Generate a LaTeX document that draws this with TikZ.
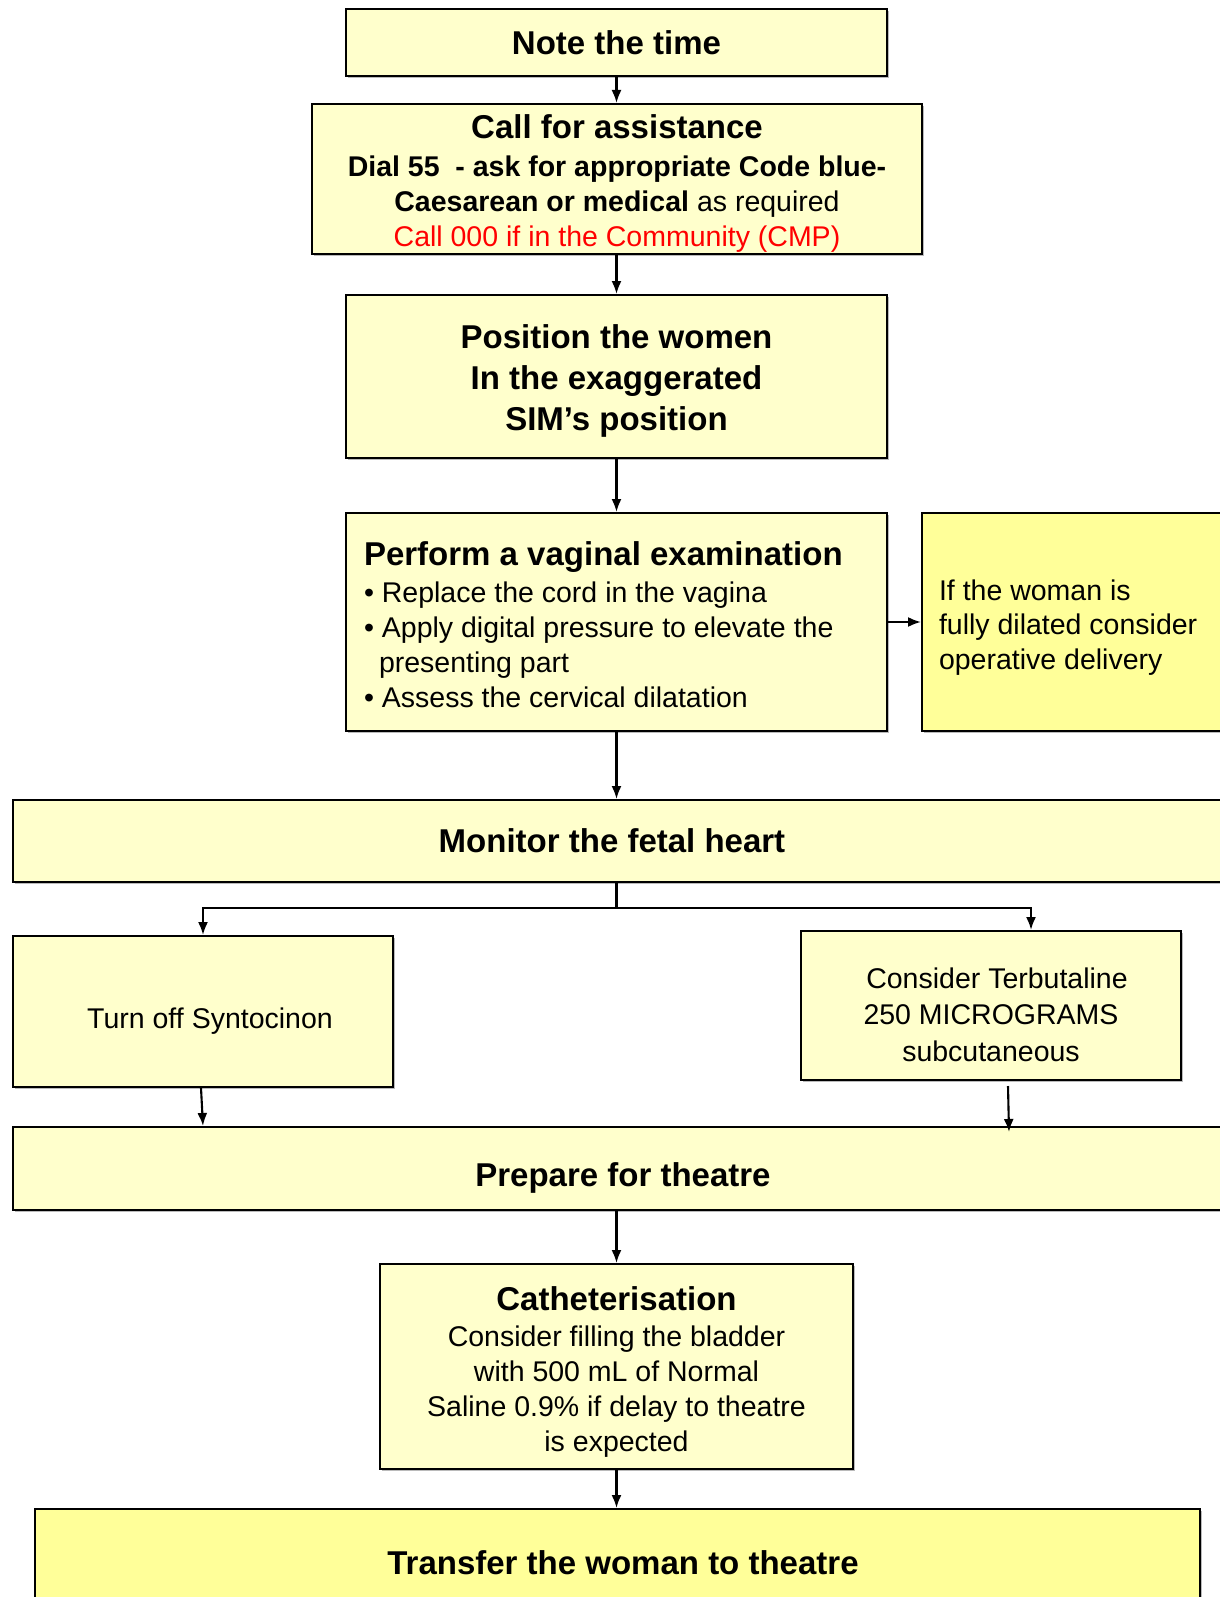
\documentclass[tikz,border=0pt]{standalone}
\usepackage{fontspec}
\setmainfont{Liberation Sans}
\usetikzlibrary{arrows.meta,shadows,calc}
\definecolor{boxyellow}{HTML}{FFFFCC}
\definecolor{hiyellow}{HTML}{FFFF99}
\definecolor{callred}{HTML}{FF0000}
\newcommand{\ttlfont}{\fontsize{33}{41}\selectfont\bfseries\spaceskip=0.278em\relax\xspaceskip=0.278em\relax}
\newcommand{\bdyfont}[1]{\fontsize{28.5}{#1}\selectfont\mdseries\spaceskip=0.278em\relax\xspaceskip=0.278em\relax}
\newcommand{\upstrut}[1]{\rule{0pt}{#1}}
\begin{document}
\begin{tikzpicture}[x=1pt,y=-1pt,
  box/.style={draw=black,line width=2pt,fill=boxyellow,rectangle,inner sep=0pt,
    drop shadow={shadow xshift=2pt,shadow yshift=-2pt,fill=black!45,opacity=0.6}},
  arr/.style={line width=2.1pt,-{Latex[length=13pt,width=10pt]}},
  ln/.style={line width=2.1pt}]
\useasboundingbox (0,0) rectangle (1219,1597);
\fill[white] (0,0) rectangle (1219,1597);

\node[box,minimum width=541pt,minimum height=67pt,text width=531pt,align=flush center] (note) at (616.5,42.5)
  {\ttlfont Note the time\par};

\node[box,minimum width=610pt,minimum height=150pt,text width=600pt,align=flush center] (call) at (617,179)
  {\bdyfont{35}{\ttlfont\upstrut{32pt}Call for assistance}\\[3pt]
   \textbf{Dial 55\ \ - ask for appropriate Code blue-}\\
   \textbf{Caesarean or medical} as required\\
   \textcolor{callred}{Call 000 if in the Community (CMP)}\par};

\node[box,minimum width=541pt,minimum height=163pt,text width=531pt,align=flush center] (pos) at (616.5,376.5)
  {\ttlfont\upstrut{32pt}Position the women\\In the exaggerated\\SIM’s position\par};

\node[box,minimum width=541pt,minimum height=218pt,text width=505pt,inner xsep=18pt,align=flush left] (perf) at (616.5,622)
  {\bdyfont{35}{\ttlfont\upstrut{30pt}Perform a vaginal examination}\\[2pt]
   \textbullet\ Replace the cord in the vagina\\
   \textbullet\ Apply digital pressure to elevate the\\
   \hspace*{15pt}presenting part\\
   \textbullet\ Assess the cervical dilatation\par};

\node[box,fill=hiyellow,minimum width=303pt,minimum height=218pt,text width=269pt,inner xsep=17pt,align=flush left] (ifb) at (1073.5,622)
  {\bdyfont{34.5}\upstrut{31pt}If the woman is\\fully dilated consider\\operative delivery\par};

\node[box,minimum width=1212pt,minimum height=82pt,text width=1200pt,align=flush center] (mon) at (619,841)
  {\ttlfont\hspace*{-14pt}Monitor the fetal heart\par};

\node[box,minimum width=380pt,minimum height=151pt,text width=370pt,align=flush center] (turnoff) at (203,1011.5)
  {\bdyfont{35}\upstrut{39pt}\hspace*{14pt}Turn off Syntocinon\par};

\node[box,minimum width=380pt,minimum height=149pt,text width=370pt,align=flush center] (terb) at (991,1005.5)
  {\bdyfont{36.5}\upstrut{39pt}\hspace*{12pt}Consider Terbutaline\\250 MICROGRAMS\\subcutaneous\par};

\node[box,minimum width=1212pt,minimum height=83pt,text width=1200pt,align=flush center] (prep) at (619,1168.5)
  {\ttlfont\upstrut{42pt}\hspace*{8pt}Prepare for theatre\par};

\node[box,minimum width=473pt,minimum height=205pt,text width=463pt,align=flush center] (cath) at (616.5,1366.5)
  {\bdyfont{35}{\ttlfont\upstrut{34pt}Catheterisation}\\[1pt]
   Consider filling the bladder\\
   with 500 mL of Normal\\
   Saline 0.9\% if delay to theatre\\
   is expected\par};

\node[box,fill=hiyellow,minimum width=1165pt,minimum height=108pt,text width=1150pt,align=flush center] (trans) at (617.5,1563)
  {\ttlfont\hspace*{11pt}Transfer the woman to theatre\par};

% connectors
\draw[arr] (note.south) -- (note.south |- call.north);
\draw[arr] (pos.north |- call.south) -- (pos.north);
\draw[arr] (pos.south) -- (perf.north);
\draw[arr] (perf.east) -- (ifb.west);
\draw[arr] (perf.south) -- (perf.south |- mon.north);
\coordinate (branch) at (616.5,908);
\draw[ln] (perf.south |- mon.south) -- (branch);
\draw[arr] (branch) -| (turnoff.north);
\draw[arr] (branch) -| ([xshift=40pt]terb.north);
\coordinate (tostart) at ($(turnoff.south)+(-2,0)$);
\draw[arr] (tostart) -- (turnoff.south |- prep.north);
\coordinate (tbstart) at ($(terb.south)+(17,5)$);
\coordinate (tbend) at ($(terb.south |- prep.north)+(18,6)$);
\draw[arr] (tbstart) -- (tbend);
\draw[arr] (cath.north |- prep.south) -- (cath.north);
\draw[arr] (cath.south) -- (cath.south |- trans.north);
\end{tikzpicture}
\end{document}
